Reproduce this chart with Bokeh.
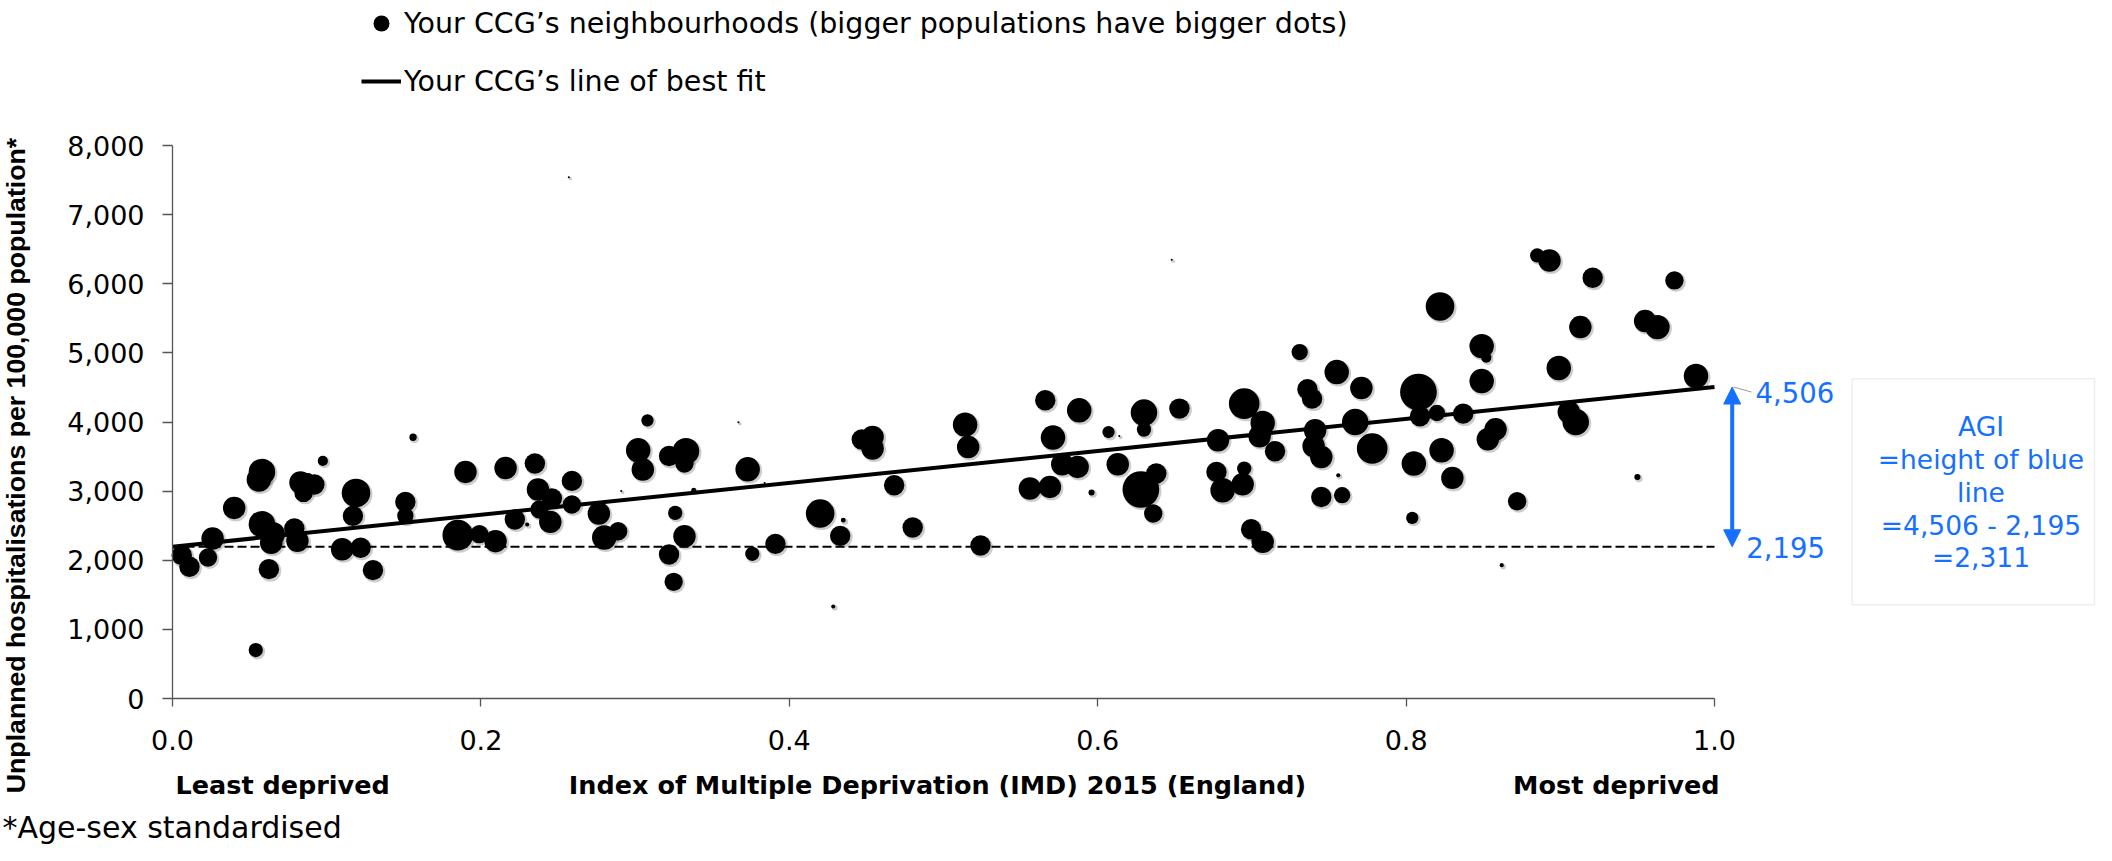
import numpy as np
from bokeh.plotting import figure
from bokeh.models import (ColumnDataSource, Label, Legend, LegendItem, Arrow, NormalHead,
                          BoxAnnotation, FixedTicker, NumeralTickFormatter, Range1d)
from bokeh.embed import file_html
from bokeh.resources import INLINE

# ---------------- data ----------------
imd = [
    0.006, 0.011, 0.023, 0.026, 0.040, 0.054, 0.056, 0.058, 0.058, 0.065,
    0.064, 0.0625, 0.079, 0.081, 0.083, 0.092, 0.085, 0.088, 0.0975, 0.119,
    0.117, 0.110, 0.122, 0.130, 0.156, 0.151, 0.151, 0.185, 0.199, 0.2095,
    0.190, 0.216, 0.235, 0.237, 0.246, 0.238, 0.245, 0.222, 0.230, 0.259,
    0.259, 0.2765, 0.280, 0.289, 0.291, 0.308, 0.302, 0.305, 0.322, 0.326,
    0.322, 0.325, 0.257,
    0.333, 0.332, 0.332, 0.338, 0.367, 0.373, 0.384, 0.376, 0.391, 0.420,
    0.435, 0.433, 0.4285, 0.447, 0.454, 0.454, 0.468, 0.480, 0.514, 0.516,
    0.524, 0.566, 0.571, 0.556, 0.569, 0.577, 0.587, 0.588, 0.607, 0.614,
    0.613, 0.596, 0.630, 0.630, 0.628, 0.638, 0.636, 0.653, 0.648,
    0.678, 0.695, 0.707, 0.705, 0.715, 0.677, 0.695, 0.681, 0.694, 0.6995,
    0.707, 0.731, 0.736, 0.739, 0.741, 0.740, 0.745, 0.756, 0.745, 0.7585,
    0.755, 0.771, 0.767, 0.778, 0.808, 0.809, 0.820, 0.822, 0.823, 0.805,
    0.830, 0.804, 0.837, 0.849, 0.852, 0.849, 0.858, 0.853, 0.862, 0.872,
    0.885, 0.893, 0.899, 0.9055, 0.910, 0.913, 0.921, 0.950, 0.955, 0.963,
    0.974, 0.988,
]
rate = [
    2074, 1905, 2040, 2315, 2757, 701, 3167, 3278, 2522, 2377,
    2251, 1871, 2459, 2281, 3124, 3095, 2974, 3190, 3437, 2974,
    2642, 2160, 2180, 1857, 3779, 2844, 2642, 2363, 2377, 2276,
    3278, 3335, 3399, 3023, 2893, 2734, 2555, 2590, 2517, 3148,
    2806, 2676, 2329, 2420, 3003, 4024, 3591, 3312, 3509, 2685,
    2084, 1688, 7542,
    3577, 3399, 2348, 3013, 3996, 3316, 3118, 2093, 2237, 2676,
    2580, 2353, 1332, 3746, 3783, 3616, 3085, 2474, 3962, 3639,
    2214, 4314, 3775, 3038, 3061, 3389, 3350, 4169, 3855, 3798,
    3389, 2980, 4136, 3890, 3023, 3254, 2676, 4194, 6347,
    3736, 4266, 3986, 3793, 3577, 3278, 3327, 3013, 3100, 2449,
    2266, 5012, 4473, 4338, 3880, 3653, 3494, 3230, 2916, 2941,
    4723, 4491, 4000, 3616, 4434, 4082, 4130, 5672, 3591, 3399,
    3191, 2613, 4121, 5098, 4931, 4592, 3894, 3750, 1929, 2854,
    6409, 6337, 4781, 4145, 4000, 5373, 6087, 3205, 5460, 5373,
    6048, 4665,
]
population = [
    2500, 2500, 2025, 3025, 3025, 1225, 3600, 4225, 4225, 3600,
    3025, 2500, 2500, 3025, 3025, 2500, 2025, 625, 625, 4900,
    2500, 3025, 2500, 2500, 324, 2500, 1600, 5625, 2025, 3025,
    3025, 3025, 2500, 3025, 2500, 2025, 3025, 2500, 100, 2500,
    2025, 3025, 3600, 2025, 25, 900, 3600, 3025, 2500, 1225,
    2500, 2025, 25,
    4225, 2025, 3025, 144, 25, 3600, 25, 1225, 2500, 4900,
    144, 2500, 100, 2500, 3025, 3025, 2500, 2500, 3600, 3025,
    2500, 2500, 3600, 3025, 3025, 3025, 3025, 3600, 900, 25,
    3025, 225, 4225, 1225, 8100, 2500, 2025, 2500, 25,
    3025, 5625, 3600, 3025, 2500, 2500, 1225, 3600, 3025, 2500,
    3025, 1600, 2500, 2500, 3025, 3025, 3025, 100, 2500, 1600,
    3600, 3025, 4225, 5625, 8100, 2500, 1600, 4900, 3600, 3600,
    3025, 900, 2500, 3600, 625, 3600, 3025, 3025, 100, 2025,
    1225, 3025, 3600, 3025, 4225, 3025, 2500, 225, 3025, 3600,
    2025, 3600,
]

england_low = 2195    # best-fit value at the least deprived end (0.0)
england_high = 4506   # best-fit value at the most deprived end (1.0)
agi = england_high - england_low

x_ticks = [0.0, 0.2, 0.4, 0.6, 0.8, 1.0]
y_ticks = [0, 1000, 2000, 3000, 4000, 5000, 6000, 7000, 8000]

y_title = "Unplanned hospitalisations per 100,000 population*"
x_title = "Index of Multiple Deprivation (IMD) 2015 (England)"
left_note = "Least deprived"
right_note = "Most deprived"
footnote = "*Age-sex standardised"
legend_dots = "Your CCG\u2019s neighbourhoods (bigger populations have bigger dots)"
legend_line = "Your CCG\u2019s line of best fit"
box_lines = ["AGI", "=height of blue", "line",
             f"={england_high:,} - {england_low:,}", f"={agi:,}"]

# ---------------- layout ----------------
W, H = 2096, 845
X0_PX, Y0_PX = 172.0, 698.0   # pixel position of IMD 0 / rate 0
PX_X = 1542.0                 # px per unit of IMD
PX_Y = 69.125                 # px per 1000 of rate

def dx(px):
    return (px - X0_PX) / PX_X

def dy(py):
    return (Y0_PX - py) / PX_Y * 1000

BLUE = "#1670ff"
FONT = "DejaVu Sans"

p = figure(width=W, height=H, x_range=Range1d(dx(0), dx(W)), y_range=Range1d(dy(H), dy(0)),
           output_backend="svg", toolbar_location=None,
           min_border_left=0, min_border_right=0, min_border_top=0, min_border_bottom=0)
p.outline_line_color = None
p.grid.visible = False
p.background_fill_color = "white"
p.border_fill_color = "white"

for ax in (p.xaxis[0], p.yaxis[0]):
    ax.fixed_location = 0
    ax.axis_line_color = "#555555"
    ax.axis_line_width = 1.3
    ax.major_tick_line_color = "#555555"
    ax.major_tick_line_width = 1.3
    ax.minor_tick_line_color = None
    ax.major_tick_in = 0
    ax.major_label_text_font = FONT
    ax.major_label_text_font_size = "27px"
    ax.major_label_text_color = "#000000"

p.xaxis.bounds = (0, 1)
p.xaxis.ticker = FixedTicker(ticks=x_ticks)
p.xaxis.formatter = NumeralTickFormatter(format="0.0")
p.xaxis.major_tick_out = 8
p.xaxis.major_label_standoff = 23

p.yaxis.bounds = (0, 8000)
p.yaxis.ticker = FixedTicker(ticks=y_ticks)
p.yaxis.formatter = NumeralTickFormatter(format="0,0")
p.yaxis.major_tick_out = 10
p.yaxis.major_label_standoff = 18

# dots (diameter grows with the square root of the population)
sizes = np.sqrt(np.array(population, dtype=float)) / 2.45
shadow = ColumnDataSource(dict(x=np.array(imd) + 1.5 / PX_X,
                               y=np.array(rate) - 1.5 / PX_Y * 1000,
                               s=sizes + 1.5))
src = ColumnDataSource(dict(x=imd, y=rate, s=sizes))
p.scatter("x", "y", size="s", source=shadow, fill_color="#000000", fill_alpha=0.2,
          line_color=None)
dots = p.scatter("x", "y", size="s", source=src, fill_color="#000000", line_color=None)

# lines
p.line([0, 1], [england_low, england_low], line_color="#000000", line_width=2,
       line_dash="9 4")
fit = p.line([0, 1], [england_low, england_high], line_color="#000000", line_width=4)

# blue arrow
ax_x = dx(1731.7)
p.add_layout(Arrow(start=NormalHead(size=17, fill_color=BLUE, line_color=BLUE),
                   end=NormalHead(size=17, fill_color=BLUE, line_color=BLUE),
                   x_start=ax_x, y_start=england_low, x_end=ax_x, y_end=england_high,
                   line_color=BLUE, line_width=4))
p.add_layout(Arrow(end=None, x_start=dx(1733), y_start=england_high,
                   x_end=dx(1751), y_end=dy(391.5), line_color="#9a9a9a", line_width=1))

def lab(x, y, text, size="26px", color="#000000", align="left", baseline="middle",
        style="normal", angle=0.0, font=FONT):
    p.add_layout(Label(x=x, y=y, text=text, text_font=font, text_font_size=size,
                       text_color=color, text_align=align, text_baseline=baseline,
                       text_font_style=style, angle=angle))

lab(dx(1755), dy(391.7), f"{england_high:,}", size="27.5px", color=BLUE)
lab(dx(1745.7), dy(546.7), f"{england_low:,}", size="27.5px", color=BLUE)

# AGI box
p.add_layout(BoxAnnotation(left=dx(1851.7), right=dx(W - 2),
                           bottom=dy(604.3), top=dy(378.3), fill_color=None,
                           line_color="#c8c8c8", line_width=1.5))
for txt, yy in zip(box_lines, [425.8, 459.0, 492.0, 525.0, 556.7]):
    lab(dx(1980.5), dy(yy), txt, size="26.5px", color=BLUE, align="center")

# axis titles & notes
lab(dx(15), dy(465), y_title, size="26.7px", align="center", style="bold",
    angle=np.pi / 2, font="Liberation Sans")
lab(dx(175), dy(784), left_note, size="25.5px", style="bold")
lab(dx(937), dy(784), x_title, size="25.5px", style="bold", align="center")
lab(dx(1719), dy(784), right_note, size="25.5px", style="bold", align="right")
lab(dx(2), dy(844.5), footnote, size="30px", baseline="bottom")

# legend (its location is measured from the frame's bottom-left corner)
legend = Legend(items=[LegendItem(label=legend_dots, renderers=[dots]),
                       LegendItem(label=legend_line, renderers=[fit])],
                location=(361, H - 102), orientation="vertical",
                glyph_width=40, glyph_height=42, label_height=42, spacing=16,
                padding=0, margin=0, label_standoff=3,
                label_text_font=FONT, label_text_font_size="28.5px",
                label_text_color="#000000",
                border_line_color=None, background_fill_alpha=0)
p.add_layout(legend)

open("out.html", "w").write(file_html(p, INLINE))
